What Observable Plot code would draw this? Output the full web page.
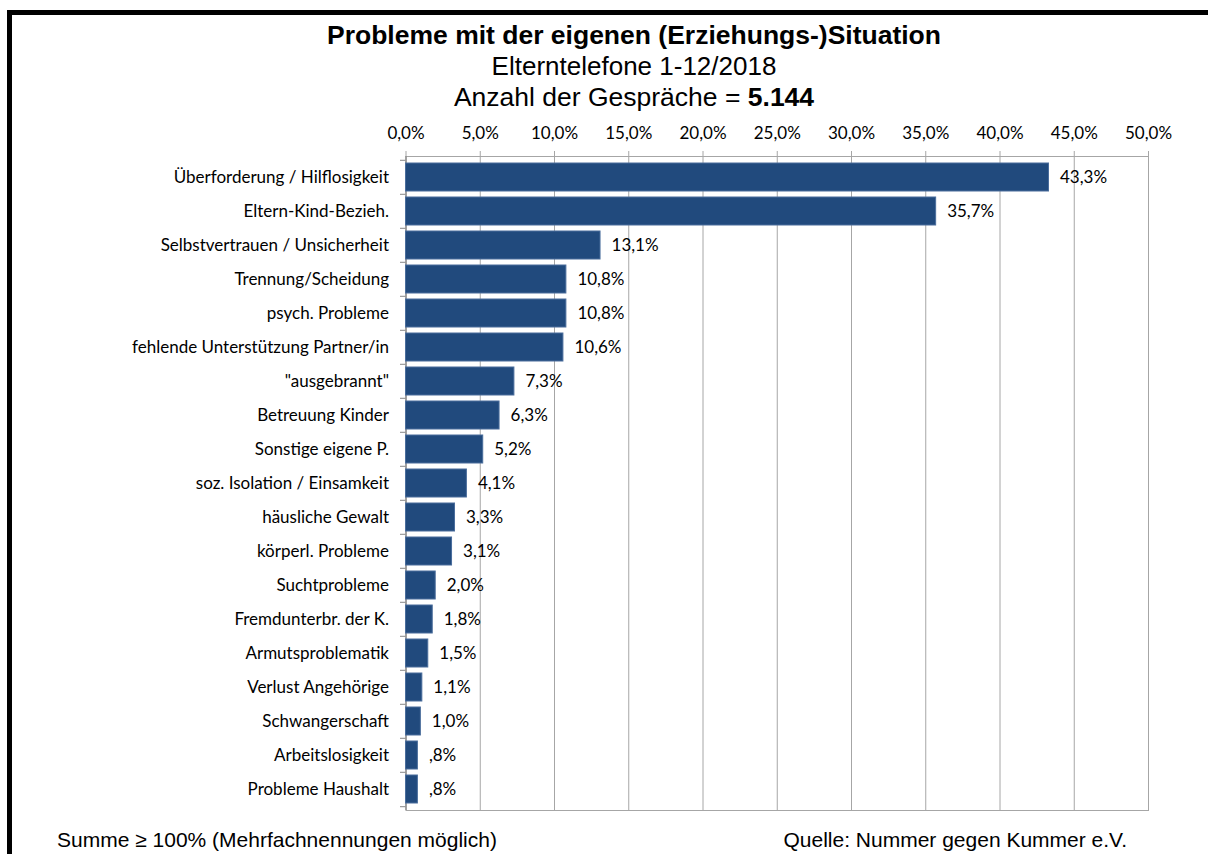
<!DOCTYPE html>
<html>
<head>
<meta charset="utf-8">
<script src="https://cdn.jsdelivr.net/npm/d3@7"></script>
<script src="https://cdn.jsdelivr.net/npm/@observablehq/plot@0.6"></script>
<style>
  html, body { margin: 0; padding: 0; background: white; width: 1208px; height: 854px; overflow: hidden; }
  #frame { position: absolute; left: 7px; top: 10px; width: 1400px; height: 1000px; border: 5px solid #000; box-sizing: border-box; }
  .t { position: absolute; left: 0; width: 1268px; text-align: center; font-family: "Liberation Sans", Arial, sans-serif; color: #000; white-space: nowrap; z-index: 2; line-height: 1; }
  #chart { position: absolute; left: 0; top: 0; z-index: 1; }
  .foot { position: absolute; font-family: "Liberation Sans", Arial, sans-serif; font-size: 21px; line-height: 1; color: #000; white-space: nowrap; z-index: 2; }
</style>
</head>
<body>
<div id="frame"></div>
<div class="t" style="top:21.5px;font-size:26.5px;font-weight:bold;">Probleme mit der eigenen (Erziehungs-)Situation</div>
<div class="t" style="top:53px;font-size:26px;">Elterntelefone 1-12/2018</div>
<div class="t" style="top:83.5px;font-size:26.5px;">Anzahl der Gespräche = <b>5.144</b></div>
<div id="chart"></div>
<div class="foot" style="left:57px;top:829px;">Summe ≥ 100% (Mehrfachnennungen möglich)</div>
<div class="foot" style="right:81px;top:829px;">Quelle: Nummer gegen Kummer e.V.</div>
<script>
const categories = [
  "Überforderung / Hilflosigkeit",
  "Eltern-Kind-Bezieh.",
  "Selbstvertrauen / Unsicherheit",
  "Trennung/Scheidung",
  "psych. Probleme",
  "fehlende Unterstützung Partner/in",
  "\"ausgebrannt\"",
  "Betreuung Kinder",
  "Sonstige eigene P.",
  "soz. Isolation / Einsamkeit",
  "häusliche Gewalt",
  "körperl. Probleme",
  "Suchtprobleme",
  "Fremdunterbr. der K.",
  "Armutsproblematik",
  "Verlust Angehörige",
  "Schwangerschaft",
  "Arbeitslosigkeit",
  "Probleme Haushalt"
];
const values = [43.3, 35.7, 13.1, 10.8, 10.8, 10.6, 7.3, 6.3, 5.2, 4.1, 3.3, 3.1, 2.0, 1.8, 1.5, 1.1, 1.0, 0.8, 0.8];
const xTicks = [0, 5, 10, 15, 20, 25, 30, 35, 40, 45, 50];

const data = categories.map((c, i) => ({category: c, value: values[i]}));

const fmtTick = d => d.toFixed(1).replace(".", ",") + "%";
const fmtVal = d => d.toFixed(1).replace(".", ",").replace(/^0,/, ",") + "%";

const W = 1208, H = 830;
const mTop = 156, mBottom = H - 810, mLeft = 405.5, mRight = W - 1148;
const step = (H - mTop - mBottom) / categories.length;
const font = "Lato, 'Open Sans', sans-serif";
const fs = 17;

const chart = Plot.plot({
  width: W,
  height: H,
  marginTop: mTop,
  marginBottom: mBottom,
  marginLeft: mLeft,
  marginRight: mRight,
  style: {background: "transparent", fontFamily: font, fontSize: fs + "px", color: "#000"},
  x: {domain: [0, 50], axis: null},
  y: {domain: categories, padding: 0.18, paddingOuter: 0.09, axis: null},
  marks: [
    Plot.gridX(xTicks, {stroke: "#a6a6a6", strokeOpacity: 1}),
    Plot.frame({stroke: "#a6a6a6"}),
    Plot.axisX({anchor: "top", ticks: xTicks, tickFormat: fmtTick, tickSize: 6, tickPadding: 12, stroke: "#a6a6a6", fontSize: fs, fill: "#000", label: null}),
    Plot.axisY({tickSize: 0, tickPadding: 17, fontSize: fs, fill: "#000", label: null}),
    Plot.ruleX([0], {stroke: "#868686"}),
    Plot.ruleY(categories, {y: d => d, x1: -0.37, x2: 0, dy: -step / 2, stroke: "#868686"}),
    Plot.ruleY([categories[categories.length - 1]], {y: d => d, x1: -0.37, x2: 0, dy: step / 2, stroke: "#868686"}),
    Plot.barX(data, {y: "category", x: "value", fill: "#214a7d", stroke: "#4a6d9c", strokeWidth: 1}),
    Plot.text(data, {y: "category", x: "value", text: d => fmtVal(d.value), textAnchor: "start", dx: 11, fontSize: fs, fill: "#000"})
  ]
});
document.getElementById("chart").appendChild(chart);
</script>
</body>
</html>
